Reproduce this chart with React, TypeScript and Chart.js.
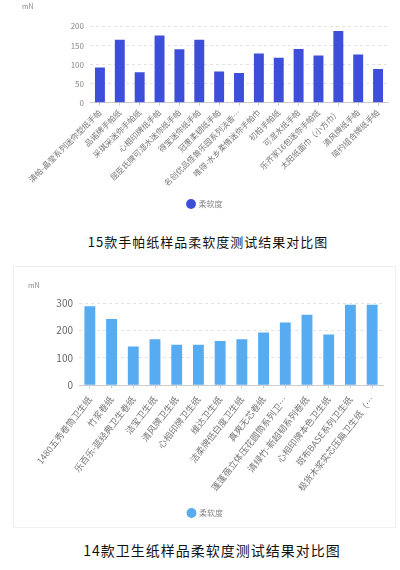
import React, { useEffect, useRef } from 'react';
import Chart from 'chart.js/auto';

// 手帕纸
const tissueLabels = [
  '清帕-晶莹系列迷你型纸手帕',
  '品诺牌手帕纸',
  '采琪采迷你手帕纸',
  '心相印牌纸手帕',
  '屈臣氏牌可湿水迷你纸手帕',
  '得宝迷你纸手帕',
  '冠惠柔韧纸手帕',
  '名创优品怪兽乐园系列淡香…',
  '唯得-水乡柔情迷你手帕巾',
  '初柏手帕纸',
  '可湿水纸手帕',
  '乐齐家16包迷你手帕纸',
  '太阳纸面巾（小方巾）',
  '清风牌纸手帕',
  '简约组合牌纸手帕',
];
const tissueValues = [92, 165, 80, 176, 140, 165, 82, 78, 129, 118, 141, 124, 188, 126, 88];

// 卫生纸
const toiletLabels = [
  '1480五秀卷筒卫生纸',
  '竹浆卷纸',
  '乐百乐-蓝经典卫生卷纸',
  '洁宝卫生纸',
  '清风牌卫生纸',
  '心相印牌卫生纸',
  '维达卫生纸',
  '洁柔牌低白度卫生纸',
  '真爽无芯卷纸',
  '蓬蓬蓓立体压花圆筒系列卫…',
  '清绿竹-新超韧系列卷纸',
  '心相印牌本色卫生纸',
  '斑布BASE系列卫生纸',
  '极货木浆实芯压扁卫生纸（…',
];
const toiletValues = [290, 243, 142, 168, 148, 148, 162, 168, 193, 230, 258, 186, 295, 295];

const seriesName = '柔软度';
const FONT = '"Noto Sans CJK SC", "Noto Sans", sans-serif';

interface SoftnessChartProps {
  labels: string[];
  data: number[];
  color: string;
  max: number;
  tickSize: number;
  tickColor: string;
  labelSize: number;
  labelPad: number;
  rotation: number;
  padLeft: number;
  axisWidth: number;
  titleTop: number;
  titleBottom: number;
  height: number;
}

function SoftnessChart(props: SoftnessChartProps) {
  const {
    labels, data, color, max, tickSize, tickColor, labelSize, labelPad,
    rotation, padLeft, axisWidth, titleTop, titleBottom, height,
  } = props;
  const chartRef = useRef<HTMLCanvasElement>(null);
  const chartInstance = useRef<Chart | null>(null);

  useEffect(() => {
    if (!chartRef.current) return;
    if (chartInstance.current) chartInstance.current.destroy();

    chartInstance.current = new Chart(chartRef.current, {
      type: 'bar',
      data: {
        labels,
        datasets: [{
          label: seriesName,
          data,
          backgroundColor: color,
          barPercentage: 0.5,
          categoryPercentage: 1,
        }],
      },
      options: {
        animation: false,
        responsive: true,
        maintainAspectRatio: false,
        layout: { padding: { left: padLeft, right: 12, top: 0, bottom: 0 } },
        scales: {
          y: {
            min: 0,
            max,
            afterFit: (scale) => { scale.width = axisWidth; },
            ticks: { stepSize: 50, color: tickColor, font: { family: FONT, size: tickSize }, padding: 6 },
            grid: { color: '#e2e2e2', tickLength: 0 },
            border: { display: false, dash: [3, 3] },
          },
          x: {
            ticks: {
              autoSkip: false,
              minRotation: rotation,
              maxRotation: rotation,
              color: '#777',
              font: { family: FONT, size: labelSize },
              padding: labelPad,
            },
            grid: { drawOnChartArea: false, offset: false, tickLength: 3, color: '#ccc' },
            border: { color: '#ccc' },
          },
        },
        plugins: {
          title: {
            display: true,
            text: 'mN',
            align: 'start',
            color: '#888',
            font: { family: FONT, size: 7, weight: 'normal' },
            padding: { top: titleTop, bottom: titleBottom },
          },
          legend: {
            position: 'bottom',
            labels: {
              usePointStyle: true,
              pointStyle: 'circle',
              boxWidth: 7,
              boxHeight: 7,
              color: '#888',
              font: { family: FONT, size: 8 },
            },
          },
          tooltip: { enabled: false },
        },
      },
    });

    return () => {
      if (chartInstance.current) {
        chartInstance.current.destroy();
        chartInstance.current = null;
      }
    };
  }, [labels, data, color, max, tickSize, tickColor, labelSize, labelPad, rotation, padLeft, axisWidth, titleTop, titleBottom]);

  return (
    <div style={{ position: 'relative', height }}>
      <canvas ref={chartRef} />
    </div>
  );
}

const captionStyle: React.CSSProperties = {
  position: 'absolute',
  textAlign: 'center',
  fontFamily: FONT,
  fontSize: 13,
  color: '#111',
  letterSpacing: 1,
};

export default function App() {
  useEffect(() => {
    document.body.style.margin = '0';
  }, []);

  return (
    <div style={{ width: 400, height: 570, background: '#fff', position: 'relative' }}>
      <div style={{ position: 'absolute', left: 0, top: 0, width: 400 }}>
        <SoftnessChart
          labels={tissueLabels}
          data={tissueValues}
          color="#3d4fda"
          max={200}
          tickSize={8}
          tickColor="#888"
          labelSize={8}
          labelPad={2}
          rotation={45}
          padLeft={22}
          axisWidth={68}
          titleTop={2}
          titleBottom={16}
          height={218}
        />
      </div>
      <div style={{ ...captionStyle, top: 232, left: 8, width: 400 }}>
        15款手帕纸样品柔软度测试结果对比图
      </div>
      <div style={{ position: 'absolute', left: 13, top: 266, width: 383, height: 262, border: '1px solid #f0f0f0', boxSizing: 'border-box' }}>
        <SoftnessChart
          labels={toiletLabels}
          data={toiletValues}
          color="#57abf1"
          max={300}
          tickSize={10}
          tickColor="#666"
          labelSize={9}
          labelPad={6}
          rotation={52}
          padLeft={14}
          axisWidth={51}
          titleTop={14}
          titleBottom={14}
          height={260}
        />
      </div>
      <div style={{ ...captionStyle, fontSize: 14, top: 540, left: 12, width: 400 }}>
        14款卫生纸样品柔软度测试结果对比图
      </div>
    </div>
  );
}
